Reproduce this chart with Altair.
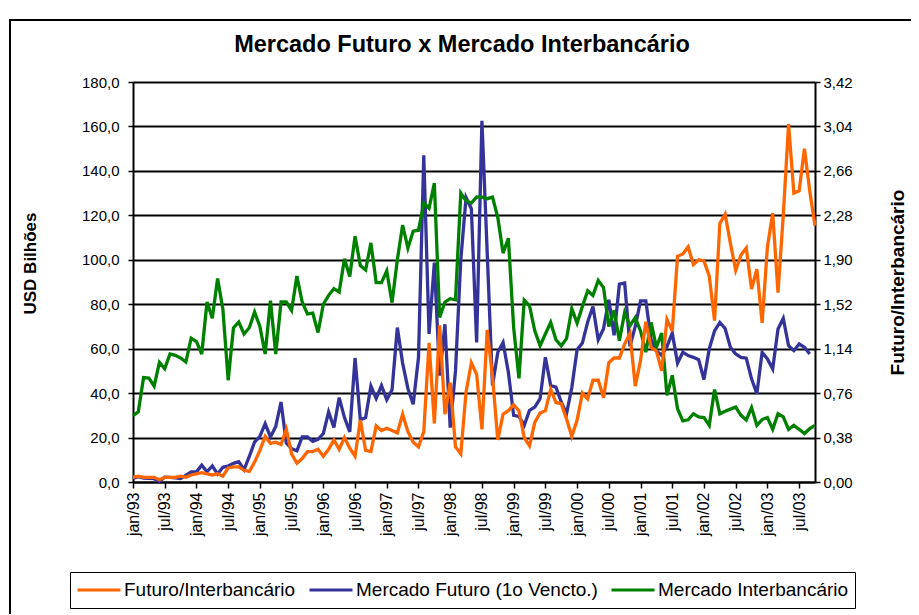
import altair as alt
import pandas as pd

# ---- data (monthly, jan/93 .. out/03) ----
pt_months = ["jan", "fev", "mar", "abr", "mai", "jun", "jul", "ago", "set", "out", "nov", "dez"]
years = ["93", "94", "95", "96", "97", "98", "99", "00", "01", "02", "03"]
months = [f"{m}/{y}" for y in years for m in pt_months][:130]

tick_labels = ["jan/93", "jul/93", "jan/94", "jul/94", "jan/95", "jul/95", "jan/96", "jul/96",
               "jan/97", "jul/97", "jan/98", "jul/98", "jan/99", "jul/99", "jan/00", "jul/00",
               "jan/01", "jul/01", "jan/02", "jul/02", "jan/03", "jul/03"]

left_ticks = [0, 20, 40, 60, 80, 100, 120, 140, 160, 180]
right_ticks = [0, 0.38, 0.76, 1.14, 1.52, 1.90, 2.28, 2.66, 3.04, 3.42]

chart_title = "Mercado Futuro x Mercado Interbancário"

# Mercado Futuro (1o Vencto.) - USD bilhões (no value for the last month)
futuro = [1.6, 2.4, 1.8, 1.6, 1.5, 0.3, 2.2, 2.1, 1.9, 1.6, 3.0, 4.6, 4.6, 7.6, 4.6, 7.2, 3.6, 6.6, 7.2, 8.4,
          9.1, 5.5, 11.5, 18, 20.5, 26.3, 20.3, 25, 36, 17.5, 15, 14, 20.3, 20.3, 18.3, 19.2, 21.8, 31.5, 24.5, 38,
          29, 22.5, 55.8, 28, 29, 43.2, 37.6, 43.4, 37, 41.5, 69.5, 53.5, 42, 35, 56, 147, 66.6, 98.7, 47.9, 71,
          24.5, 50, 100, 128, 123, 62.8, 162.5, 103, 43.4, 58.4, 62.8, 49.4, 30, 29.5, 25.5, 32.2, 33.7, 37.5, 56.1, 43.4,
          42.7, 36, 30.7, 42.5, 59.5, 62.5, 72, 79, 64, 69, 82, 66, 89, 89.5, 61, 70, 81.5, 81.5, 64, 59,
          57, 61, 67, 53.5, 58.4, 56.9, 56.1, 55, 46.1, 59.9, 68, 71.8, 69.1, 60.6, 57.6, 56.1, 55.7, 46.4, 39.7, 58.4,
          55.4, 50.9, 68.8, 73.6, 61.3, 59.1, 62.1, 60.6, 57.6, None]

# Mercado Interbancário - USD bilhões
interbancario = [29.8, 31.6, 47, 46.8, 43.2, 53.8, 51, 57.6, 57, 55.8, 54, 64.7, 63.2, 57.6, 81, 73.7, 91.6, 77.8, 45.8, 69.3,
                 72, 66.6, 69.4, 76.5, 70, 57.6, 81.6, 57.6, 81, 81, 77.2, 92.7, 81, 75.6, 76, 67.3, 80, 84, 87, 85.5,
                 100.5, 92.5, 110.6, 97.4, 95.4, 107.6, 89.7, 89.7, 95, 80.7, 100, 115.6, 105.2, 112.9, 113.3, 125.5, 123.2, 134.5, 74, 81,
                 82.5, 82, 130, 126.5, 125.5, 128.3, 128.2, 127.5, 128.2, 119, 103, 109.7, 69.5, 46.6, 81.8, 79.3, 68, 61.3, 66.6, 71.8,
                 64, 61.3, 64.5, 78, 71.5, 79, 86, 84, 90.7, 87.5, 70, 77.3, 63.6, 76.3, 70.3, 74, 68, 58.4, 71.8, 60.6,
                 67, 39, 48, 33, 27.5, 28, 30.7, 29.3, 29, 25.5, 41.6, 30.7, 31.8, 32.8, 33.7, 30, 27.9, 33.5, 25.5, 28.1,
                 29, 23.7, 30.7, 29.3, 23.7, 25.5, 23.7, 21.8, 24, 25.5]

# Futuro/Interbancário - ratio (right axis)
razao = [0.04, 0.05, 0.04, 0.04, 0.04, 0.02, 0.04, 0.04, 0.04, 0.05, 0.04, 0.06, 0.07, 0.08, 0.07, 0.06, 0.07, 0.05, 0.12, 0.13,
         0.13, 0.10, 0.09, 0.17, 0.27, 0.39, 0.33, 0.34, 0.32, 0.45, 0.24, 0.16, 0.20, 0.26, 0.26, 0.28, 0.22, 0.28, 0.36, 0.28,
         0.38, 0.29, 0.22, 0.53, 0.27, 0.26, 0.48, 0.44, 0.46, 0.44, 0.42, 0.58, 0.43, 0.34, 0.30, 0.43, 1.19, 0.50, 1.34, 0.58,
         0.85, 0.30, 0.24, 0.77, 1.02, 0.92, 0.45, 1.30, 0.90, 0.36, 0.58, 0.61, 0.66, 0.61, 0.38, 0.31, 0.51, 0.59, 0.61, 0.79,
         0.68, 0.67, 0.54, 0.39, 0.53, 0.76, 0.71, 0.87, 0.87, 0.72, 1.02, 1.06, 1.06, 1.18, 1.27, 0.82, 1.04, 1.37, 1.15, 1.12,
         0.95, 1.39, 1.29, 1.93, 1.95, 2.01, 1.86, 1.90, 1.89, 1.76, 1.38, 2.21, 2.29, 2.04, 1.81, 1.94, 2.00, 1.65, 1.82, 1.36,
         2.01, 2.30, 1.62, 2.28, 3.06, 2.47, 2.49, 2.85, 2.49, 2.19]

series_names = ["Futuro/Interbancário", "Mercado Futuro (1o Vencto.)", "Mercado Interbancário"]
series_colors = ["#FF6600", "#333399", "#008000"]

# ---- tables ----
df_fut = pd.DataFrame({"mes": months, "valor": futuro, "serie": series_names[1]}).dropna()
df_int = pd.DataFrame({"mes": months, "valor": interbancario, "serie": series_names[2]})
df_raz = pd.DataFrame({"mes": months, "valor": razao, "serie": series_names[0]})
df_one = pd.DataFrame({"titulo": [chart_title]})

FONT = "Liberation Sans"
W, H = 682, 400
LW = 3.3

x_enc = alt.X(
    "mes:O", sort=months, title=None,
    scale=alt.Scale(type="point", padding=0),
    axis=alt.Axis(values=tick_labels, labelAngle=270, labelAlign="right", labelBaseline="middle",
                  labelFontSize=16, labelPadding=4, tickSize=6, tickWidth=1.5, tickColor="black",
                  domainColor="black", domainWidth=2, grid=False, labelColor="black", labelFont=FONT),
)

color_enc = alt.Color(
    "serie:N",
    scale=alt.Scale(domain=series_names, range=series_colors),
    legend=alt.Legend(orient="none", legendX=-63, legendY=490, direction="horizontal", columns=3,
                      title=None, labelFontSize=19, labelFont=FONT, labelColor="black", labelLimit=500,
                      symbolType="stroke", symbolStrokeWidth=3, symbolSize=1849, clipHeight=24,
                      strokeColor="black", fillColor="white", padding=6, columnPadding=12,
                      labelOffset=2),
)

left_axis = alt.Axis(orient="left", values=left_ticks,
                     labelExpr="replace(format(datum.value, '.1f'), '.', ',')",
                     grid=True, gridColor="black", gridWidth=1.8, gridOpacity=1,
                     tickSize=5, tickColor="black", tickWidth=1.5,
                     domainColor="black", domainWidth=2,
                     labelFontSize=15, labelFont=FONT, labelColor="black", labelPadding=9,
                     title="USD Bilhões", titleFont=FONT, titleFontSize=17, titleFontWeight="bold",
                     titleColor="black", titleAngle=270, titleAlign="center", titleBaseline="middle",
                     titleX=-103, titleY=181)

right_axis = alt.Axis(orient="right", values=right_ticks,
                      labelExpr="replace(format(datum.value, '.2f'), '.', ',')",
                      grid=False, tickSize=5, tickColor="black", tickWidth=1.5,
                      domainColor="black", domainWidth=2,
                      labelFontSize=15, labelFont=FONT, labelColor="black", labelPadding=3,
                      title="Futuro/Interbancário", titleFont=FONT, titleFontSize=19,
                      titleFontWeight="bold", titleColor="black", titleAngle=270,
                      titleAlign="center", titleBaseline="middle", titleX=82, titleY=200)

frame = alt.Chart(df_one).mark_rect(filled=False, stroke="black", strokeWidth=2).encode(
    x=alt.value(-123), x2=alt.value(779), y=alt.value(-62), y2=alt.value(560)
)

title_mark = alt.Chart(df_one).mark_text(
    font=FONT, fontSize=23.5, fontWeight="bold", color="black", align="center", baseline="middle"
).encode(text="titulo:N", x=alt.value(329), y=alt.value(-37))

line_fut = alt.Chart(df_fut).mark_line(strokeWidth=LW).encode(
    x=x_enc,
    y=alt.Y("valor:Q", scale=alt.Scale(domain=[0, 180], nice=False), axis=left_axis),
    color=color_enc,
)
line_int = alt.Chart(df_int).mark_line(strokeWidth=LW).encode(
    x=x_enc,
    y=alt.Y("valor:Q", scale=alt.Scale(domain=[0, 180], nice=False), axis=left_axis),
    color=color_enc,
)
left_layer = alt.layer(line_fut, line_int)

line_raz = alt.Chart(df_raz).mark_line(strokeWidth=LW).encode(
    x=x_enc,
    y=alt.Y("valor:Q", scale=alt.Scale(domain=[0, 3.42], nice=False), axis=right_axis),
    color=color_enc,
)

chart = alt.layer(frame, title_mark, left_layer, line_raz).resolve_scale(
    y="independent"
).properties(
    width=W, height=H,
    autosize=alt.AutoSizeParams(type="none"),
    padding={"left": 125, "top": 74, "right": 96, "bottom": 132},
    background="white",
).configure_view(strokeWidth=0)

chart.save("out.html", embed_options={"renderer": "svg", "actions": False})
